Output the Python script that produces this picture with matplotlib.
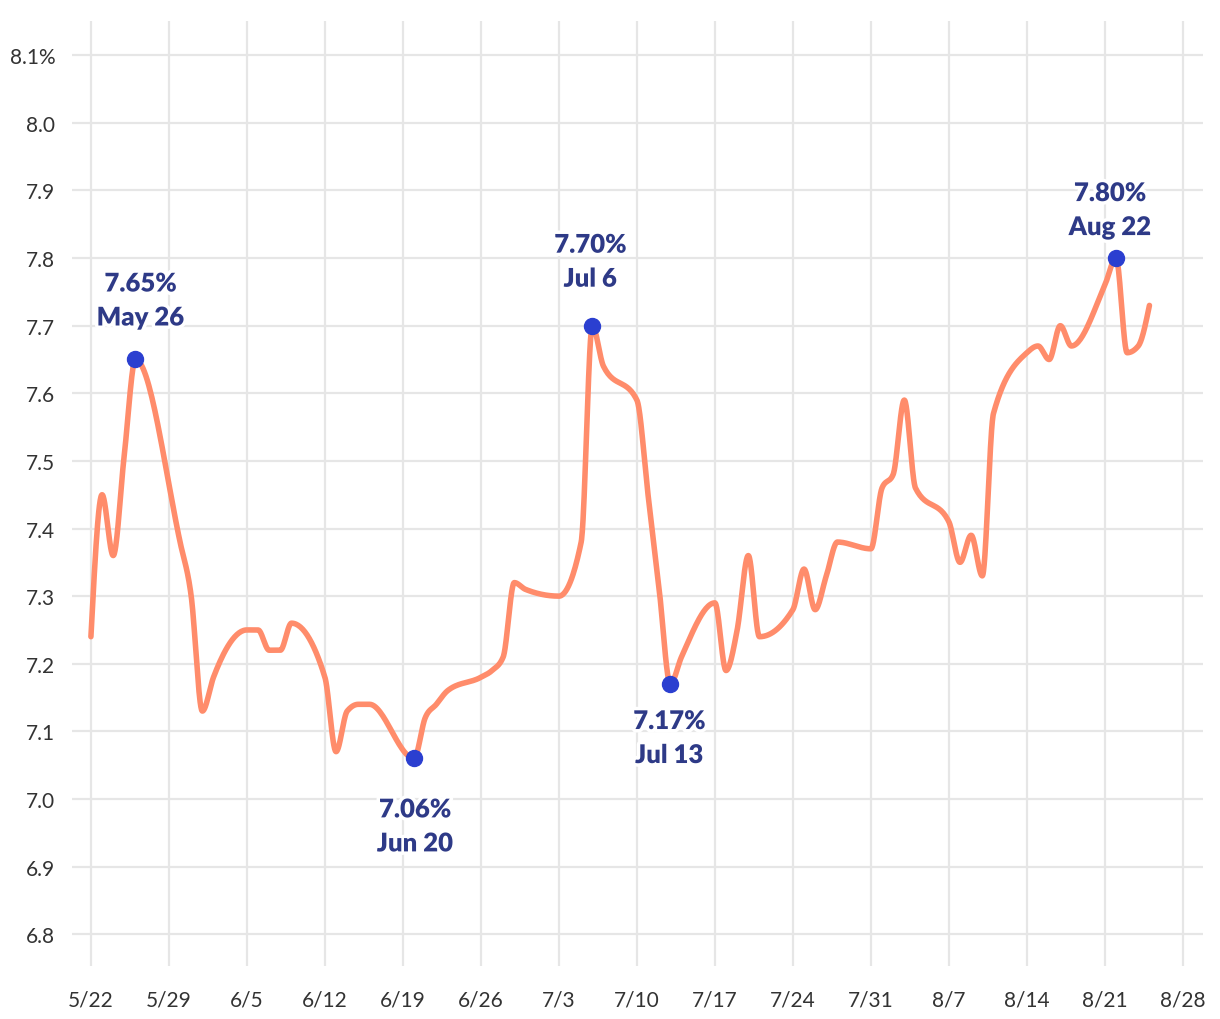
import numpy as np
import pandas as pd
import matplotlib
matplotlib.use("Agg")
import matplotlib.pyplot as plt
import matplotlib.dates as mdates
import matplotlib.patheffects as pe

# daily 30-yr rate, business days of 2023
dates = [
    "2023-05-22", "2023-05-23", "2023-05-24", "2023-05-25", "2023-05-26",
    "2023-05-30", "2023-05-31", "2023-06-01", "2023-06-02",
    "2023-06-05", "2023-06-06", "2023-06-07", "2023-06-08", "2023-06-09",
    "2023-06-12", "2023-06-13", "2023-06-14", "2023-06-15", "2023-06-16",
    "2023-06-20", "2023-06-21", "2023-06-22", "2023-06-23",
    "2023-06-26", "2023-06-27", "2023-06-28", "2023-06-29", "2023-06-30",
    "2023-07-03", "2023-07-05", "2023-07-06", "2023-07-07",
    "2023-07-10", "2023-07-11", "2023-07-12", "2023-07-13", "2023-07-14",
    "2023-07-17", "2023-07-18", "2023-07-19", "2023-07-20", "2023-07-21",
    "2023-07-24", "2023-07-25", "2023-07-26", "2023-07-27", "2023-07-28",
    "2023-07-31", "2023-08-01", "2023-08-02", "2023-08-03", "2023-08-04",
    "2023-08-07", "2023-08-08", "2023-08-09", "2023-08-10", "2023-08-11",
    "2023-08-14", "2023-08-15", "2023-08-16", "2023-08-17", "2023-08-18",
    "2023-08-21", "2023-08-22", "2023-08-23", "2023-08-24", "2023-08-25",
]
rates = [
    7.24, 7.45, 7.36, 7.51, 7.65,
    7.38, 7.30, 7.13, 7.18,
    7.25, 7.25, 7.22, 7.22, 7.26,
    7.18, 7.07, 7.13, 7.14, 7.14,
    7.06, 7.12, 7.14, 7.16,
    7.18, 7.19, 7.21, 7.32, 7.31,
    7.30, 7.38, 7.70, 7.64,
    7.59, 7.45, 7.31, 7.17, 7.21,
    7.29, 7.19, 7.25, 7.36, 7.24,
    7.28, 7.34, 7.28, 7.33, 7.38,
    7.37, 7.46, 7.48, 7.59, 7.46,
    7.41, 7.35, 7.39, 7.33, 7.57,
    7.66, 7.67, 7.65, 7.70, 7.67,
    7.76, 7.80, 7.66, 7.67, 7.73,
]

# highlighted points
marked_dates = ["2023-05-26", "2023-06-20", "2023-07-06", "2023-07-13", "2023-08-22"]
marked_labels = ["7.65%\nMay 26", "7.06%\nJun 20", "7.70%\nJul 6", "7.17%\nJul 13", "7.80%\nAug 22"]

y_ticks = [6.8, 6.9, 7.0, 7.1, 7.2, 7.3, 7.4, 7.5, 7.6, 7.7, 7.8, 7.9, 8.0, 8.1]
x_ticks = pd.date_range("2023-05-22", "2023-08-28", freq="7D")

# label offsets in pixels (dx, dy), y up
label_offsets = [(5, 59), (1, -68), (-2, 64), (-1, -54), (-6, 48)]

LINE = "#FF8C6B"
DOT = "#2B3FD0"
LABEL = "#2E3A87"
GRID = "#E6E6E6"


def monotone_x(x, y, n=30):
    # d3 curveMonotoneX style interpolation
    x = np.asarray(x, float)
    y = np.asarray(y, float)
    h = np.diff(x)
    s = np.diff(y) / h
    t = np.zeros_like(y)
    for i in range(1, len(y) - 1):
        h0, h1 = h[i - 1], h[i]
        s0, s1 = s[i - 1], s[i]
        p = (s0 * h1 + s1 * h0) / (h0 + h1)
        t[i] = (np.sign(s0) + np.sign(s1)) * min(abs(s0), abs(s1), 0.5 * abs(p))
    t[0] = (3 * s[0] - t[1]) / 2
    t[-1] = (3 * s[-1] - t[-2]) / 2
    xs, ys = [], []
    for i in range(len(h)):
        u = np.linspace(0, 1, n, endpoint=False)
        h00 = 2 * u**3 - 3 * u**2 + 1
        h10 = u**3 - 2 * u**2 + u
        h01 = -2 * u**3 + 3 * u**2
        h11 = u**3 - u**2
        xs.append(x[i] + u * h[i])
        ys.append(h00 * y[i] + h10 * h[i] * t[i] + h01 * y[i + 1] + h11 * h[i] * t[i + 1])
    xs.append([x[-1]])
    ys.append([y[-1]])
    return np.concatenate(xs), np.concatenate(ys)


def main():
    plt.rcParams["font.family"] = ["Lato", "DejaVu Sans"]

    xd = mdates.date2num(pd.to_datetime(dates))
    xs, ys = monotone_x(xd, rates)

    fig = plt.figure(figsize=(12.2, 10.2), dpi=100)
    ax = fig.add_axes([0.059, 0.052, 0.927, 0.926])

    ax.plot(xs, ys, color=LINE, lw=4.0, solid_capstyle="round", zorder=3)

    x0 = mdates.date2num(pd.Timestamp("2023-05-22"))
    ax.set_xlim(x0 - 1.7, x0 + 99.8)
    ax.set_ylim(6.753, 8.150)

    ax.set_yticks(y_ticks)
    ylabels = [f"{v:.1f}" for v in y_ticks]
    ylabels[-1] = ylabels[-1] + "%"
    ax.set_yticklabels(ylabels)
    ax.set_xticks(mdates.date2num(x_ticks))
    ax.set_xticklabels([f"{d.month}/{d.day}" for d in x_ticks])

    ax.grid(True, color=GRID, lw=1.6)
    ax.set_axisbelow(True)
    for sp in ax.spines.values():
        sp.set_visible(False)
    ax.tick_params(length=0, labelsize=15, colors="#333333")
    ax.tick_params(axis="y", pad=12)
    ax.tick_params(axis="x", pad=17)

    lookup = dict(zip(dates, rates))
    for d, lab, (dx, dy) in zip(marked_dates, marked_labels, label_offsets):
        xv = mdates.date2num(pd.Timestamp(d))
        yv = lookup[d]
        ax.plot([xv], [yv], "o", color=DOT, ms=11.5, zorder=4)
        ax.annotate(lab, (xv, yv), xytext=(dx, dy), textcoords="offset pixels",
                    ha="center", va="center", fontsize=18.5, fontweight="heavy",
                    color=LABEL, linespacing=1.5, zorder=5,
                    path_effects=[pe.withStroke(linewidth=5, foreground="white")])

    fig.savefig("out.png", dpi=100)


if __name__ == "__main__":
    main()
